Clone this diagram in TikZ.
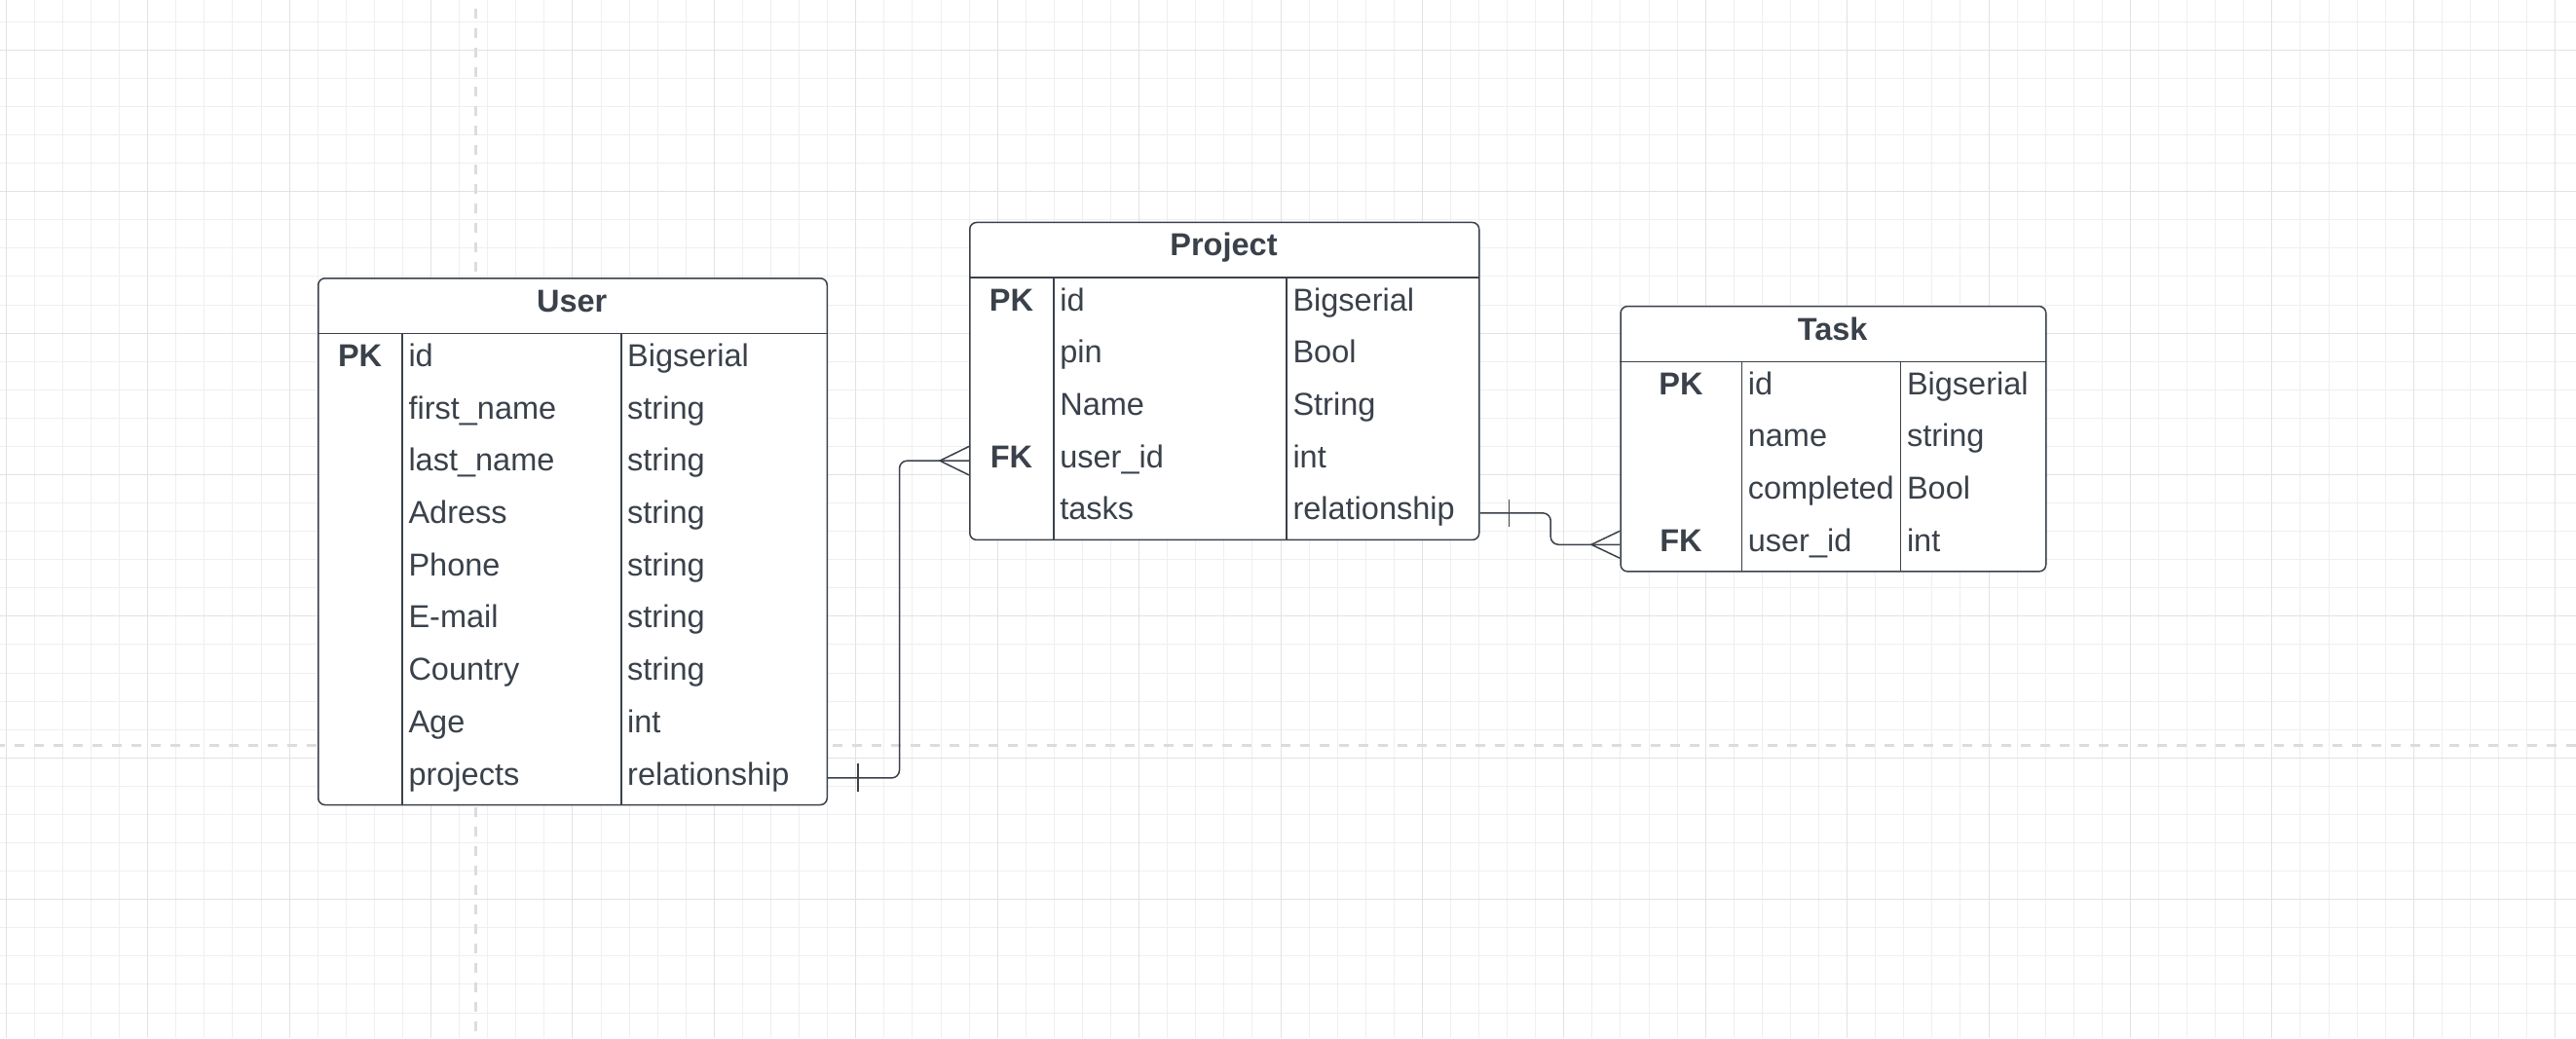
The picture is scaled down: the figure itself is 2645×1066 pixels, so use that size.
\documentclass[tikz,border=0pt]{standalone}
\usepackage{fontspec}
\setmainfont{Liberation Sans}
\definecolor{ink}{HTML}{3A414A}
\definecolor{gridminor}{HTML}{EFEFEF}
\definecolor{gridmajor}{HTML}{E2E2E2}
\definecolor{pagebreak}{HTML}{DCDCDC}
\tikzset{
  tbl/.style={draw=ink, line width=1.5pt, fill=white, rounded corners=7pt, rectangle, inner sep=0pt, anchor=north west},
  tline/.style={draw=ink, line width=1.5pt},
  tabletitle/.style={anchor=base, inner sep=0pt, text=ink, font=\fontsize{32.5}{38}\selectfont\bfseries},
  keytext/.style={anchor=base, inner sep=0pt, text=ink, font=\fontsize{32.5}{38}\selectfont\bfseries},
  fieldtext/.style={anchor=base west, inner sep=0pt, text=ink, font=\fontsize{32.5}{38}\selectfont},
  conn/.style={draw=ink, line width=1.5pt, rounded corners=8pt},
  endmark/.style={draw=ink, line width=1.5pt},
  minorline/.style={draw=gridminor, line width=1pt},
  majorline/.style={draw=gridmajor, line width=1pt},
  breakline/.style={draw=pagebreak, line width=3pt, dash pattern=on 10pt off 10pt}
}
\begin{document}
\begin{tikzpicture}[x=1pt,y=-1pt]
\useasboundingbox (0,0) rectangle (2645,1066);
\fill[white] (0,0) rectangle (2645,1066);
% grid
\foreach \i in {0,...,90} \draw[minorline] ({6.3+29.082*\i},0) -- ({6.3+29.082*\i},1066);
\foreach \j in {0,...,35} \draw[minorline] (0,{22.2+29.08*\j}) -- (2645,{22.2+29.08*\j});
\foreach \i in {0,...,18} \draw[majorline] ({6.3+145.41*\i},0) -- ({6.3+145.41*\i},1066);
\foreach \j in {0,...,6} \draw[majorline] (0,{51.3+145.4*\j}) -- (2645,{51.3+145.4*\j});
% page break lines
\draw[breakline, dash phase=5pt] (0,765.3) -- (2645,765.3);
\draw[breakline] (488.3,9.3) -- (488.3,1066);

% ---------- User ----------
\node[tbl, minimum width=522.5pt, minimum height=540.8pt] (user) at (326,285) {};
\draw[tline] (326,342.5) -- (848.5,342.5);
\draw[tline] (413.2,342.5) -- (413.2,825.8);
\draw[tline] (637.9,342.5) -- (637.9,825.8);
\node[tabletitle] (user-title) at (587.25,320) {User};
\node[keytext] (user-pk) at (369.6,376.4) {PK};
\foreach \n/\t [count=\i from 0] in {id/Bigserial, first\_name/string, last\_name/string, Adress/string, Phone/string, E-mail/string, Country/string, Age/int, projects/relationship}{
  \node[fieldtext] (user-n\i) at (419.3,{376.4+53.7*\i}) {\n};
  \node[fieldtext] (user-t\i) at (644,{376.4+53.7*\i}) {\t};
}
\coordinate (user-r8) at (587.25,798.95);

% ---------- Project ----------
\node[tbl, minimum width=523pt, minimum height=326pt] (project) at (995,227.7) {};
\draw[tline] (995,285.2) -- (1518,285.2);
\draw[tline] (1082,285.2) -- (1082,553.7);
\draw[tline] (1321.2,285.2) -- (1321.2,553.7);
\node[tabletitle] (project-title) at (1256.5,262.7) {Project};
\node[keytext] (project-pk) at (1038.5,319.1) {PK};
\node[keytext] (project-fk) at (1038.5,{319.1+3*53.7}) {FK};
\foreach \n/\t [count=\i from 0] in {id/Bigserial, pin/Bool, Name/String, user\_id/int, tasks/relationship}{
  \node[fieldtext] (project-n\i) at (1088.1,{319.1+53.7*\i}) {\n};
  \node[fieldtext] (project-t\i) at (1327.3,{319.1+53.7*\i}) {\t};
}
\coordinate (project-r3) at (1256.5,473.15);
\coordinate (project-r4) at (1256.5,526.85);

% ---------- Task ----------
\node[tbl, minimum width=436.7pt, minimum height=272.3pt] (task) at (1663.3,313.8) {};
\draw[tline] (1663.3,371.3) -- (2100,371.3);
\draw[tline] (1788.5,371.3) -- (1788.5,586.1);
\draw[tline] (1951.7,371.3) -- (1951.7,586.1);
\node[tabletitle] (task-title) at (1881.65,349.3) {Task};
\node[keytext] (task-pk) at (1725.9,405.2) {PK};
\node[keytext] (task-fk) at (1725.9,{405.2+3*53.7}) {FK};
\foreach \n/\t [count=\i from 0] in {id/Bigserial, name/string, completed/Bool, user\_id/int}{
  \node[fieldtext] (task-n\i) at (1794.6,{405.2+53.7*\i}) {\n};
  \node[fieldtext] (task-t\i) at (1957.8,{405.2+53.7*\i}) {\t};
}
\coordinate (task-r3) at (1881.65,559.25);

% ---------- connectors ----------
\coordinate (user-projects) at (user.east |- user-r8);
\coordinate (project-userid) at (project.west |- project-r3);
\coordinate (project-tasks) at (project.east |- project-r4);
\coordinate (task-userid) at (task.west |- task-r3);

\draw[conn] (user-projects) -- ++(73.5,0) |- (project-userid);
\draw[endmark] ([xshift=30.8pt]user-projects) ++(0,-14.5) -- ++(0,29);
\draw[endmark] ([yshift=14.7pt]project-userid) -- ([xshift=-30pt]project-userid) -- ([yshift=-14.7pt]project-userid);

\draw[conn] (project-tasks) -- ++(72.7,0) |- (task-userid);
\draw[endmark] ([xshift=30pt]project-tasks) ++(0,-14) -- ++(0,28);
\draw[endmark] ([yshift=14pt]task-userid) -- ([xshift=-29.3pt]task-userid) -- ([yshift=-14pt]task-userid);
\end{tikzpicture}
\end{document}
